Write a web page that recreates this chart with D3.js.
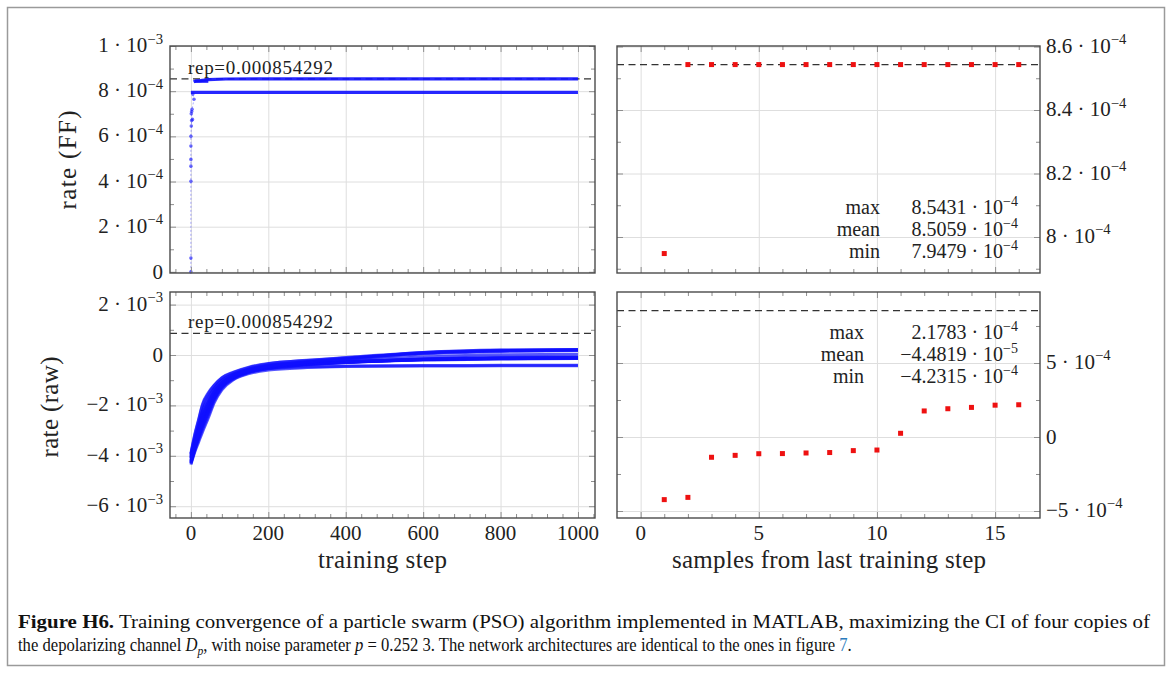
<!DOCTYPE html>
<html>
<head>
<meta charset="utf-8">
<script src="https://cdn.jsdelivr.net/npm/d3@7"></script>
<style>
  body { margin: 0; background: #fff; }
  svg { display: block; font-family: "Liberation Serif", "Times New Roman", serif; }
</style>
</head>
<body>
<div id="container"></div>
<script>
// ---- data ----
const rep = 0.000854292;

// training steps at which the raw-rate trajectories were read (x of bottom-left panel)
const trainSteps = [0, 10, 20, 30, 45, 60, 80, 110, 150, 200, 300, 400, 600, 800, 1000];
// 16 particle trajectories, rate (raw) in units of 1e-3
const rawCurves = [
  [-4.35, -3.85, -3.45, -3.05, -2.5, -1.9, -1.38, -0.98, -0.74, -0.6, -0.5, -0.46, -0.44, -0.43, -0.423],
  [-4.1, -3.6, -3.1, -2.6, -2.1, -1.6, -1.2, -0.9, -0.68, -0.55, -0.47, -0.44, -0.42, -0.41, -0.41],
  [-4.3, -3.75, -3.3, -2.85, -2.3, -1.75, -1.28, -0.92, -0.68, -0.52, -0.38, -0.3, -0.2, -0.16, -0.14],
  [-3.95, -3.3, -2.75, -2.2, -1.7, -1.32, -1.0, -0.76, -0.56, -0.43, -0.32, -0.26, -0.18, -0.15, -0.13],
  [-4.2, -3.65, -3.2, -2.7, -2.15, -1.65, -1.22, -0.88, -0.65, -0.5, -0.37, -0.29, -0.19, -0.14, -0.12],
  [-4.0, -3.4, -2.85, -2.35, -1.85, -1.42, -1.08, -0.8, -0.6, -0.46, -0.35, -0.28, -0.18, -0.13, -0.115],
  [-4.25, -3.7, -3.25, -2.8, -2.25, -1.72, -1.25, -0.9, -0.66, -0.51, -0.38, -0.3, -0.18, -0.13, -0.11],
  [-4.05, -3.45, -2.95, -2.45, -1.95, -1.5, -1.12, -0.83, -0.62, -0.47, -0.35, -0.28, -0.17, -0.125, -0.105],
  [-4.3, -3.8, -3.35, -2.95, -2.4, -1.82, -1.32, -0.95, -0.7, -0.54, -0.39, -0.3, -0.17, -0.11, -0.09],
  [-4.1, -3.55, -3.05, -2.55, -2.0, -1.55, -1.15, -0.85, -0.63, -0.48, -0.36, -0.28, -0.16, -0.1, -0.085],
  [-4.15, -3.6, -3.15, -2.65, -2.1, -1.6, -1.18, -0.86, -0.63, -0.47, -0.33, -0.24, -0.08, 0.01, 0.03],
  [-4.25, -3.7, -3.2, -2.75, -2.2, -1.68, -1.22, -0.88, -0.64, -0.46, -0.3, -0.18, 0.04, 0.14, 0.18],
  [-3.9, -3.15, -2.55, -1.95, -1.5, -1.2, -0.9, -0.68, -0.48, -0.34, -0.22, -0.12, 0.07, 0.16, 0.19],
  [-4.05, -3.4, -2.8, -2.25, -1.75, -1.35, -1.02, -0.76, -0.55, -0.4, -0.26, -0.14, 0.08, 0.17, 0.2],
  [-3.95, -3.2, -2.6, -2.0, -1.55, -1.22, -0.92, -0.7, -0.5, -0.35, -0.21, -0.1, 0.1, 0.19, 0.215],
  [-4.2, -3.6, -3.05, -2.5, -1.95, -1.48, -1.1, -0.82, -0.6, -0.44, -0.28, -0.15, 0.1, 0.2, 0.218]
];

// rate (FF), units of 1e-4: scattered early values [step, value]
const ffEarly = [[0, 0], [0, 0.61], [0, 4.01], [0, 4.68], [0, 4.98], [0, 5.57], [0, 6.0], [1, 6.46],
  [2, 6.7], [4, 6.75], [1, 7.0], [2, 7.1], [3, 7.2], [8, 7.64], [5, 7.87]];
const ffLow = [[0, 7.95], [1000, 7.9479]];
const ffHigh = [[7, 8.41], [12, 8.45], [25, 8.47], [45, 8.51], [90, 8.54], [1000, 8.5431]];
const ffHighStep = [[10, 8.44], [45, 8.44]];

// samples from last training step
const sampleIdx = [1, 2, 3, 4, 5, 6, 7, 8, 9, 10, 11, 12, 13, 14, 15, 16];
const ffSamples = [7.9479, 8.5431, 8.5431, 8.5431, 8.5431, 8.5431, 8.5431, 8.5431,
  8.5431, 8.5431, 8.5431, 8.5431, 8.5431, 8.5431, 8.5431, 8.5431];          // 1e-4
const rawSamples = [-4.2315, -4.08, -1.37, -1.24, -1.13, -1.12, -1.08, -1.05,
  -0.92, -0.88, 0.25, 1.76, 1.91, 2.0, 2.15, 2.1783];                        // 1e-4

const ffStats = [["max", "8.5431", "−4"], ["mean", "8.5059", "−4"], ["min", "7.9479", "−4"]];
const rawStats = [["max", "2.1783", "−4"], ["mean", "−4.4819", "−5"], ["min", "−4.2315", "−4"]];

// ticks: [value, mantissa, exponent]
const stepTicks = [0, 200, 400, 600, 800, 1000];
const sampleTicks = [0, 5, 10, 15];
const ffTicks = [[0, "0", null], [2e-4, "2", "−4"], [4e-4, "4", "−4"], [6e-4, "6", "−4"], [8e-4, "8", "−4"], [1e-3, "1", "−3"]];
const ffSampleTicks = [[8.0e-4, "8", "−4"], [8.2e-4, "8.2", "−4"], [8.4e-4, "8.4", "−4"], [8.6e-4, "8.6", "−4"]];
const rawTicks = [[-6e-3, "−6", "−3"], [-4e-3, "−4", "−3"], [-2e-3, "−2", "−3"], [0, "0", null], [2e-3, "2", "−3"]];
const rawSampleTicks = [[-5e-4, "−5", "−4"], [0, "0", null], [5e-4, "5", "−4"]];

// ---- layout ----
const width = 1172, height = 673;
const blue = "#1010ff", red = "#ee1111";

const svg = d3.select("#container").append("svg")
  .attr("width", width).attr("height", height)
  .attr("viewBox", [0, 0, width, height]);

svg.append("rect").attr("x", 7.5).attr("y", 7.5).attr("width", 1157).attr("height", 658)
  .attr("fill", "#fff").attr("stroke", "#9a9a9a").attr("stroke-width", 1.5);

const xStep = d3.scaleLinear([-54, 1044], [170, 595]);
const xSamp = d3.scaleLinear([-1, 16.9], [617, 1040]);
const yFF = d3.scaleLinear([-0.005e-3, 1.0e-3], [273, 46]);
const yFFs = d3.scaleLinear([7.8866e-4, 8.6016e-4], [273, 46]);
const yRaw = d3.scaleLinear([-6.468e-3, 2.5e-3], [518, 292]);
const yRaws = d3.scaleLinear([-5.473e-4, 9.797e-4], [518, 292]);

function sciText(g, x, y, anchor, mant, exp, size) {
  const t = g.append("text").attr("x", x).attr("y", y).attr("text-anchor", anchor)
    .attr("font-size", size).attr("fill", "#222");
  if (exp === null) { t.text(mant); return t; }
  t.append("tspan").text(mant + " · 10");
  t.append("tspan").attr("dy", -8.5).attr("font-size", size * 0.7).text(exp);
  return t;
}

function panel(x, y, o) {
  const [x0, x1] = x.range();
  const [y1, y0] = y.range();
  const g = svg.append("g");
  const clean = s => { s.select(".domain").remove(); s.selectAll("text").remove(); };

  // grid
  g.append("g").attr("transform", `translate(0,${y1})`)
    .call(d3.axisBottom(x).tickValues(o.xMajor).tickSize(-(y1 - y0)))
    .call(clean).call(s => s.selectAll("line").attr("stroke", "#dedede"));
  g.append("g").attr("transform", `translate(${x0},0)`)
    .call(d3.axisLeft(y).tickValues(o.yMajor).tickSize(-(x1 - x0)))
    .call(clean).call(s => s.selectAll("line").attr("stroke", "#dedede"));

  const plot = g.append("g");

  // inner ticks on all four sides
  const tickCol = s => s.selectAll("line").attr("stroke", "#8e8e8e");
  [[o.xMajor, 6], [o.xMinor, 4]].forEach(([vals, len]) => {
    g.append("g").attr("transform", `translate(0,${y0})`)
      .call(d3.axisBottom(x).tickValues(vals).tickSize(len)).call(clean).call(tickCol);
    g.append("g").attr("transform", `translate(0,${y1})`)
      .call(d3.axisTop(x).tickValues(vals).tickSize(len)).call(clean).call(tickCol);
  });
  [[o.yMajor, 6], [o.yMinor, 4]].forEach(([vals, len]) => {
    g.append("g").attr("transform", `translate(${x0},0)`)
      .call(d3.axisRight(y).tickValues(vals).tickSize(len)).call(clean).call(tickCol);
    g.append("g").attr("transform", `translate(${x1},0)`)
      .call(d3.axisLeft(y).tickValues(vals).tickSize(len)).call(clean).call(tickCol);
  });

  g.append("rect").attr("x", x0).attr("y", y0).attr("width", x1 - x0).attr("height", y1 - y0)
    .attr("fill", "none").attr("stroke", "#4a4a4a").attr("stroke-width", 1.4);

  // y tick labels
  o.yLabels.forEach(([v, m, e]) => {
    const ty = y(v) + (e === null ? 7 : 6);
    if (o.ySide === "left") sciText(g, x0 - 7, ty, "end", m, e, 21);
    else sciText(g, x1 + 6, ty, "start", m, e, 21);
  });
  // x tick labels
  if (o.xLabels) {
    o.xLabels.forEach(v => {
      g.append("text").attr("x", x(v)).attr("y", y1 + 22).attr("text-anchor", "middle")
        .attr("font-size", 21).attr("fill", "#222").text(v);
    });
  }
  return plot;
}

// ---- top-left: rate (FF) vs training step ----
const pTL = panel(xStep, yFF, {
  xMajor: stepTicks, xMinor: d3.range(-40, 1044, 40).filter(v => v % 200 !== 0),
  yMajor: ffTicks.map(d => d[0]), yMinor: [1e-4, 3e-4, 5e-4, 7e-4, 9e-4],
  yLabels: ffTicks, ySide: "left"
});
pTL.append("line").attr("x1", 170).attr("x2", 595).attr("y1", yFF(rep)).attr("y2", yFF(rep))
  .attr("stroke", "#333").attr("stroke-width", 1.3).attr("stroke-dasharray", "7,4.5");
const lineFF = d3.line().x(d => xStep(d[0])).y(d => yFF(d[1] * 1e-4));
pTL.append("path").attr("d", lineFF(ffEarly.slice().sort((a, b) => a[1] - b[1]).concat([[0, 7.95]])))
  .attr("fill", "none").attr("stroke", blue).attr("stroke-opacity", 0.35).attr("stroke-width", 1)
  .attr("stroke-dasharray", "2,2");
pTL.selectAll(".ffdot").data(ffEarly).join("circle")
  .attr("cx", d => xStep(d[0])).attr("cy", d => yFF(d[1] * 1e-4)).attr("r", 1.8)
  .attr("fill", blue).attr("fill-opacity", 0.6);
[ffLow, ffHigh, ffHighStep].forEach(s => {
  pTL.append("path").attr("d", lineFF(s)).attr("fill", "none")
    .attr("stroke", blue).attr("stroke-width", 3.2).attr("stroke-opacity", 0.9);
});
pTL.append("text").attr("x", xStep(0) - 3).attr("y", yFF(rep) - 5).attr("font-size", 19)
  .attr("fill", "#222").attr("textLength", 145).text("rep=0.000854292");

// ---- top-right: rate (FF) samples ----
const pTR = panel(xSamp, yFFs, {
  xMajor: sampleTicks, xMinor: [1, 2, 3, 4, 6, 7, 8, 9, 11, 12, 13, 14, 16],
  yMajor: ffSampleTicks.map(d => d[0]), yMinor: [7.9e-4, 8.1e-4, 8.3e-4, 8.5e-4],
  yLabels: ffSampleTicks, ySide: "right"
});
pTR.append("line").attr("x1", 617).attr("x2", 1040).attr("y1", yFFs(rep)).attr("y2", yFFs(rep))
  .attr("stroke", "#333").attr("stroke-width", 1.3).attr("stroke-dasharray", "7,4.5");
pTR.selectAll("rect.s").data(sampleIdx).join("rect")
  .attr("x", (d, i) => xSamp(d) - 2.5).attr("y", (d, i) => yFFs(ffSamples[i] * 1e-4) - 2.5)
  .attr("width", 5).attr("height", 5).attr("fill", red);
ffStats.forEach(([k, m, e], i) => {
  pTR.append("text").attr("x", 880).attr("y", 214 + i * 22).attr("text-anchor", "end")
    .attr("font-size", 20).attr("fill", "#222").text(k);
  sciText(pTR, 1018, 214 + i * 22, "end", m, e, 20);
});

// ---- bottom-left: rate (raw) vs training step ----
const pBL = panel(xStep, yRaw, {
  xMajor: stepTicks, xMinor: d3.range(-40, 1044, 40).filter(v => v % 200 !== 0),
  xLabels: stepTicks,
  yMajor: rawTicks.map(d => d[0]), yMinor: [-5e-3, -3e-3, -1e-3, 1e-3],
  yLabels: rawTicks, ySide: "left"
});
pBL.append("line").attr("x1", 170).attr("x2", 595).attr("y1", yRaw(rep)).attr("y2", yRaw(rep))
  .attr("stroke", "#333").attr("stroke-width", 1.3).attr("stroke-dasharray", "7,4.5");
const lineRaw = d3.line().x((d, i) => xStep(trainSteps[i])).y(d => yRaw(d * 1e-3)).curve(d3.curveMonotoneX);
pBL.selectAll("path.c").data(rawCurves).join("path")
  .attr("d", lineRaw).attr("fill", "none").attr("stroke", blue)
  .attr("stroke-width", 3).attr("stroke-opacity", 0.7);
pBL.append("text").attr("x", xStep(0) - 3).attr("y", yRaw(rep) - 5).attr("font-size", 19)
  .attr("fill", "#222").attr("textLength", 145).text("rep=0.000854292");

// ---- bottom-right: rate (raw) samples ----
const pBR = panel(xSamp, yRaws, {
  xMajor: sampleTicks, xMinor: [1, 2, 3, 4, 6, 7, 8, 9, 11, 12, 13, 14, 16],
  xLabels: sampleTicks,
  yMajor: rawSampleTicks.map(d => d[0]), yMinor: [-2.5e-4, 2.5e-4, 7.5e-4],
  yLabels: rawSampleTicks, ySide: "right"
});
pBR.append("line").attr("x1", 617).attr("x2", 1040).attr("y1", yRaws(rep)).attr("y2", yRaws(rep))
  .attr("stroke", "#333").attr("stroke-width", 1.3).attr("stroke-dasharray", "7,4.5");
pBR.selectAll("rect.s").data(sampleIdx).join("rect")
  .attr("x", d => xSamp(d) - 2.5).attr("y", (d, i) => yRaws(rawSamples[i] * 1e-4) - 2.5)
  .attr("width", 5).attr("height", 5).attr("fill", red);
rawStats.forEach(([k, m, e], i) => {
  pBR.append("text").attr("x", 864).attr("y", 339 + i * 22).attr("text-anchor", "end")
    .attr("font-size", 20).attr("fill", "#222").text(k);
  sciText(pBR, 1018, 339 + i * 22, "end", m, e, 20);
});

// ---- axis titles ----
svg.append("text").attr("transform", "translate(76,160) rotate(-90)").attr("text-anchor", "middle")
  .attr("font-size", 25).attr("fill", "#222").attr("textLength", 99).text("rate (FF)");
svg.append("text").attr("transform", "translate(58,407) rotate(-90)").attr("text-anchor", "middle")
  .attr("font-size", 25).attr("fill", "#222").attr("textLength", 101).text("rate (raw)");
svg.append("text").attr("x", 382.5).attr("y", 568).attr("text-anchor", "middle")
  .attr("font-size", 25).attr("fill", "#222").attr("textLength", 129).text("training step");
svg.append("text").attr("x", 829).attr("y", 568).attr("text-anchor", "middle")
  .attr("font-size", 25).attr("fill", "#222").attr("textLength", 314).text("samples from last training step");

// ---- caption (each line squeezed horizontally to the reference width) ----
function captionLine(y, target, build) {
  const g = svg.append("g");
  const t = g.append("text").attr("x", 0).attr("y", 0).attr("font-size", 18.5).attr("fill", "#111");
  build(t);
  const w = t.node().getComputedTextLength();
  g.attr("transform", `translate(18,${y}) scale(${target / w},1)`);
}
captionLine(628, 1132, t => {
  t.append("tspan").attr("font-weight", "bold").text("Figure H6.");
  t.append("tspan").text(" Training convergence of a particle swarm (PSO) algorithm implemented in MATLAB, maximizing the CI of four copies of");
});
captionLine(651, 834, t => {
  t.append("tspan").text("the depolarizing channel ");
  t.append("tspan").attr("font-style", "italic").text("D");
  t.append("tspan").attr("font-style", "italic").attr("font-size", 13).attr("dy", 4).text("p");
  t.append("tspan").attr("dy", -4).text(", with noise parameter ");
  t.append("tspan").attr("font-style", "italic").text("p");
  t.append("tspan").text(" = 0.252 3. The network architectures are identical to the ones in figure ");
  t.append("tspan").attr("fill", "#2b7bbd").text("7");
  t.append("tspan").text(".");
});
</script>
</body>
</html>
